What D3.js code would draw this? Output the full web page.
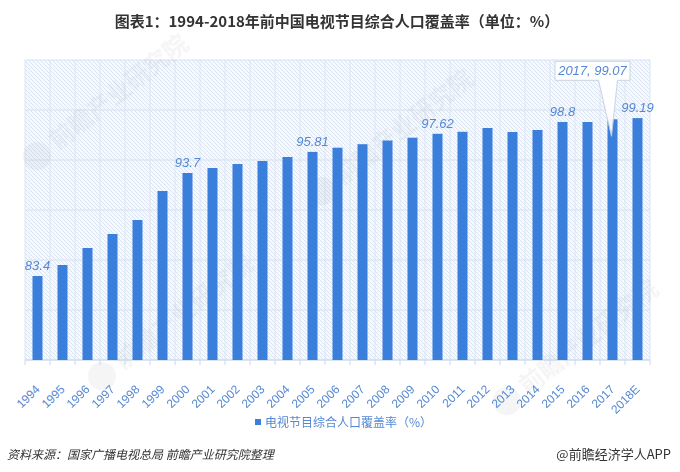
<!DOCTYPE html>
<html><head><meta charset="utf-8">
<script src="https://cdn.jsdelivr.net/npm/d3@7/dist/d3.min.js"></script>
<style>
html,body{margin:0;padding:0;background:#fff;}
svg{display:block;}
</style></head>
<body><svg id="chart" width="680" height="472"></svg>
<script>
const categories = ["1994","1995","1996","1997","1998","1999","2000","2001","2002","2003","2004","2005","2006","2007","2008","2009","2010","2011","2012","2013","2014","2015","2016","2017","2018E"];
const values = [83.4,84.5,86.2,87.6,89.0,91.9,93.7,94.2,94.6,94.9,95.3,95.81,96.23,96.58,96.95,97.23,97.62,97.82,98.2,97.8,98.0,98.8,98.8,99.07,99.19];
const labelledCategories = ["1994","2000","2005","2010","2015","2018E"];
const calloutCategory = "2017";
const yTicks = [75,80,85,90,95,100,105];
const seriesName = "电视节目综合人口覆盖率（%）";
const titleText = "图表1：1994-2018年前中国电视节目综合人口覆盖率（单位：%）";
const sourceText = "资料来源：国家广播电视总局 前瞻产业研究院整理";
const creditText = "@前瞻经济学人APP";
const watermarkText = "前瞻产业研究院";

const svg = d3.select("#chart");
const M = {left:25, right:650, top:60, bottom:360};
const barColor = "#3b7fdd";
const labelColor = "#5588d4";

const x = d3.scaleBand().domain(categories).range([M.left, M.right]).paddingInner(0.6).paddingOuter(0.3);
const band = d3.scaleBand().domain(categories).range([M.left, M.right]);
const y = d3.scaleLinear().domain([75,105]).range([M.bottom, M.top]);

// hatch pattern
const defs = svg.append("defs");
const pat = defs.append("pattern").attr("id","hatch").attr("patternUnits","userSpaceOnUse")
  .attr("width",4).attr("height",4);
pat.append("rect").attr("width",4).attr("height",4).attr("fill","#f6f9fd");
pat.append("path").attr("d","M-1,-1 L5,5 M-1,3 L1,5 M3,-1 L5,1").attr("stroke","#d6e1f1").attr("stroke-width",0.9);

svg.append("rect").attr("x",M.left).attr("y",M.top).attr("width",M.right-M.left).attr("height",M.bottom-M.top)
  .attr("fill","url(#hatch)");

// grid
const g = svg.append("g");
g.selectAll("line.h").data(yTicks).join("line").attr("class","h")
  .attr("x1",M.left).attr("x2",M.right).attr("y1",d=>y(d)).attr("y2",d=>y(d))
  .attr("stroke","#d6e2f3").attr("stroke-width",1);
const bounds = categories.map(c=>band(c)).concat([M.right]);
g.selectAll("line.v").data(bounds).join("line").attr("class","v")
  .attr("x1",d=>d).attr("x2",d=>d).attr("y1",M.top).attr("y2",M.bottom)
  .attr("stroke","#dce6f4").attr("stroke-width",1);

// watermarks
const wm = svg.append("g").attr("fill","#8a8a8a").attr("opacity",0.09)
  .attr("font-family","'Noto Sans CJK SC', sans-serif").attr("font-weight","bold").attr("font-size",24);
[[45,160],[330,195],[110,380],[515,405]].forEach(p=>{
  const w = wm.append("g").attr("transform",`translate(${p[0]},${p[1]}) rotate(-38)`);
  w.append("circle").attr("cx",-4).attr("cy",-8).attr("r",14);
  w.append("text").attr("x",16).attr("y",0).text(watermarkText);
});

// axis ticks
svg.selectAll("line.tick").data(bounds).join("line").attr("class","tick")
  .attr("x1",d=>d).attr("x2",d=>d).attr("y1",M.bottom).attr("y2",M.bottom+5)
  .attr("stroke","#c9d8ee");
svg.append("line").attr("x1",M.left).attr("x2",M.right).attr("y1",M.bottom).attr("y2",M.bottom).attr("stroke","#c9d8ee");

// bars
svg.selectAll("rect.bar").data(categories).join("rect").attr("class","bar")
  .attr("x",c=>x(c)).attr("width",x.bandwidth())
  .attr("y",(c,i)=>y(values[i])).attr("height",(c,i)=>M.bottom-y(values[i]))
  .attr("fill",barColor);

// x labels
svg.selectAll("text.xl").data(categories).join("text").attr("class","xl")
  .attr("transform",c=>`translate(${band(c)+band.bandwidth()/2},${M.bottom+27}) rotate(-45)`)
  .attr("text-anchor","end").attr("dy","0.35em")
  .attr("font-family","'Liberation Sans', Arial, sans-serif").attr("font-size",12)
  .attr("fill",labelColor).text(c=>c);

// value labels
svg.selectAll("text.vl").data(labelledCategories).join("text").attr("class","vl")
  .attr("x",c=>band(c)+band.bandwidth()/2)
  .attr("y",c=>y(values[categories.indexOf(c)])-6)
  .attr("text-anchor","middle").attr("font-style","italic")
  .attr("font-family","'Liberation Sans', Arial, sans-serif").attr("font-size",13)
  .attr("fill",labelColor).text(c=>String(values[categories.indexOf(c)]));

// callout
const ci = categories.indexOf(calloutCategory);
const cx = band(calloutCategory)+band.bandwidth()/2;
const cy = y(values[ci]);
const bx0 = cx-57.5, bx1 = cx+17.5, by0 = cy-58, by1 = cy-39;
svg.append("path")
  .attr("d",`M${bx0},${by0} L${bx1},${by0} L${bx1},${by1} L${cx+5},${by1} L${cx-1},${cy+17} L${cx-14},${by1} L${bx0},${by1} Z`)
  .attr("fill","#ffffff").attr("stroke","#c6d2e2").attr("stroke-width",1).attr("opacity",0.95);
svg.append("text").attr("x",(bx0+bx1)/2).attr("y",by1-5).attr("text-anchor","middle")
  .attr("font-style","italic").attr("font-family","'Liberation Sans', Arial, sans-serif").attr("font-size",13)
  .attr("fill",labelColor).text(`${calloutCategory}, ${values[ci]}`);

// title
svg.append("text").attr("x",337).attr("y",27).attr("text-anchor","middle")
  .attr("font-family","'Noto Sans CJK SC', sans-serif").attr("font-weight","bold").attr("font-size",15)
  .attr("fill","#333").text(titleText);

// legend
svg.append("rect").attr("x",255).attr("y",419).attr("width",6).attr("height",6).attr("fill",barColor);
svg.append("text").attr("x",265).attr("y",426.5)
  .attr("font-family","'Noto Sans CJK SC', sans-serif").attr("font-size",12)
  .attr("fill",labelColor).text(seriesName);

// footer
svg.append("text").attr("x",7).attr("y",458.5).attr("font-style","italic")
  .attr("font-family","'Noto Sans CJK SC', sans-serif").attr("font-size",12)
  .attr("fill","#333").text(sourceText);
svg.append("text").attr("x",671).attr("y",458.5).attr("text-anchor","end")
  .attr("font-family","'Noto Sans CJK SC', sans-serif").attr("font-size",13)
  .attr("fill","#333").text(creditText);
</script></body></html>
